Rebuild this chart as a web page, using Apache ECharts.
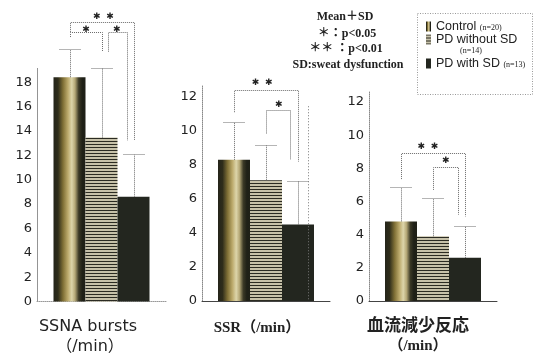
<!DOCTYPE html>
<html><head><meta charset="utf-8">
<script src="https://cdn.jsdelivr.net/npm/echarts@6/dist/echarts.min.js"></script>
<style>html,body{margin:0;padding:0;background:#fff}#c{width:535px;height:355px}</style>
</head><body><div id="c"></div>
<script>
// ---- data ----
const groups = ['Control', 'PD without SD', 'PD with SD'];
const groupN = ['(n=20)', '(n=14)', '(n=13)'];
const panelTitles = ['SSNA bursts', 'SSR', '血流減少反応'];
const unitLabel = '（/min）';
const notes = ['Mean＋SD', '＊：p<0.05', '＊＊ ：p<0.01', 'SD:sweat dysfunction'];

const ssnaMean = [18.4, 13.45, 8.6];
const ssnaSDTop = [20.7, 19.2, 12.1];
const ssrMean = [8.3, 7.1, 4.5];
const ssrSDTop = [10.5, 9.15, 7.07];
const bloodMean = [4.8, 3.9, 2.6];
const bloodSDTop = [6.9, 6.2, 4.5];

const yMax = [19.2, 12.7, 12.6];
const yInterval = [2, 2, 2];

// brackets: [fromSlot, toSlot, topValue, leftLegBottom, rightLegBottom]
const ssnaBrackets = [[0, 2, 22.9, 22.1, 13.2], [0, 1, 22.1, 21.7, 20.5], [1.2, 1.8, 22.1, 20.5, 13.2]];
const ssnaStars = [[1.06, 23.34, '✱  ✱'], [0.52, 22.34, '✱'], [1.48, 22.28, '✱']];
const ssrBrackets = [[0, 2, 12.4, 11.1, 8.2], [1, 1.75, 11.25, 9.85, 8.3]];
const ssrStars = [[0.88, 12.86, '✱  ✱'], [1.4, 11.55, '✱']];
const ssrExtraLines = [[2.3, 11.45, 0]];
const bloodBrackets = [[0, 2, 8.95, 7.35, 5.1], [1, 1.77, 8.1, 6.7, 5.2]];
const bloodStars = [[0.84, 9.28, '✱  ✱'], [1.4, 8.45, '✱']];

const means = [ssnaMean, ssrMean, bloodMean];
const sdTops = [ssnaSDTop, ssrSDTop, bloodSDTop];
const brackets = [ssnaBrackets, ssrBrackets, bloodBrackets];
const stars = [ssnaStars, ssrStars, bloodStars];
const extraLines = [[], ssrExtraLines, []];

// ---- styles ----
const BAR_W = 32;
const grids = [
  {left: 37, width: 129, top: 67.5, height: 234},
  {left: 202, width: 128, top: 85, height: 216},
  {left: 369, width: 128, top: 92, height: 209}
];
const controlFill = new echarts.graphic.LinearGradient(0, 0, 1, 0, [
  {offset: 0, color: '#24241a'}, {offset: 0.14, color: '#2e2c1a'},
  {offset: 0.3, color: '#807036'}, {offset: 0.45, color: '#bcaa6c'},
  {offset: 0.57, color: '#ddd5aa'}, {offset: 0.67, color: '#b6a978'},
  {offset: 0.79, color: '#3b3926'}, {offset: 0.9, color: '#1f2017'}, {offset: 1, color: '#1f2017'}
]);
const stripeCanvas = document.createElement('canvas');
stripeCanvas.width = 4; stripeCanvas.height = 3;
(function () {
  const c = stripeCanvas.getContext('2d');
  c.fillStyle = '#c6c1a9'; c.fillRect(0, 0, 4, 3);
  c.fillStyle = '#2b2b22'; c.fillRect(0, 0, 4, 1);
})();
const stripeFill = {image: stripeCanvas, repeat: 'repeat'};
const fills = [controlFill, stripeFill, '#23261f'];
const lineStroke = {stroke: '#6a6a6a', lineWidth: 1, lineDash: [1, 1]};
const serif = "'Liberation Serif', 'Noto Sans CJK JP'";

function px(v) { return Math.round(v) + 0.5; }

const series = [];
means.forEach((m, p) => {
  groups.forEach((g, i) => {
    series.push({
      name: g, type: 'bar', xAxisIndex: p, yAxisIndex: p,
      barWidth: BAR_W, barGap: '0%',
      itemStyle: {color: fills[i]},
      data: [m[i]], z: 2
    });
  });
  // error bars (mean + SD)
  series.push({
    type: 'custom', xAxisIndex: p, yAxisIndex: p, clip: false, z: 3, silent: true,
    data: m.map((v, i) => [0, v, sdTops[p][i]]),
    renderItem: (params, api) => {
      const i = params.dataIndex;
      const base = api.coord([0, api.value(1)]);
      const top = api.coord([0, api.value(2)]);
      const x = px(base[0] + (i - 1) * BAR_W);
      const yt = px(top[1]);
      return {type: 'group', children: [
        {type: 'line', shape: {x1: x, y1: base[1], x2: x, y2: yt}, style: lineStroke},
        {type: 'line', shape: {x1: x - 11, y1: yt, x2: x + 11, y2: yt}, style: lineStroke}
      ]};
    }
  });
  // significance brackets
  series.push({
    type: 'custom', xAxisIndex: p, yAxisIndex: p, clip: false, z: 3, silent: true,
    data: brackets[p].map(b => [0, b[2]]),
    renderItem: (params, api) => {
      const b = brackets[p][params.dataIndex];
      const c0 = api.coord([0, b[2]]);
      const xl = px(c0[0] + (b[0] - 1) * BAR_W);
      const xr = px(c0[0] + (b[1] - 1) * BAR_W);
      const yt = px(c0[1]);
      const yl = api.coord([0, b[3]])[1];
      const yr = api.coord([0, b[4]])[1];
      return {type: 'polyline', shape: {points: [[xl, yl], [xl, yt], [xr, yt], [xr, yr]]},
        style: Object.assign({fill: null}, lineStroke)};
    }
  });
  series.push({
    type: 'custom', xAxisIndex: p, yAxisIndex: p, clip: false, z: 4, silent: true,
    data: stars[p].map(s => [0, s[1]]),
    renderItem: (params, api) => {
      const s = stars[p][params.dataIndex];
      const c = api.coord([0, s[1]]);
      return {type: 'text', style: {text: s[2], x: c[0] + (s[0] - 1) * BAR_W, y: c[1],
        font: "9px 'DejaVu Sans'", fill: '#222', align: 'center', verticalAlign: 'middle'}};
    }
  });
  if (extraLines[p].length) {
    series.push({
      type: 'custom', xAxisIndex: p, yAxisIndex: p, clip: false, z: 3, silent: true,
      data: extraLines[p].map(l => [0, l[1]]),
      renderItem: (params, api) => {
        const l = extraLines[p][params.dataIndex];
        const a = api.coord([0, l[1]]);
        const b = api.coord([0, l[2]]);
        const x = px(a[0] + (l[0] - 1) * BAR_W);
        return {type: 'line', shape: {x1: x, y1: a[1], x2: x, y2: b[1]}, style: {stroke: '#777', lineWidth: 1, lineDash: [1, 2]}};
      }
    });
  }
});

const legendText = {
  fontFamily: 'Liberation Sans', fontSize: 12.5, color: '#222',
  rich: {n: {fontFamily: 'Liberation Serif', fontSize: 8, color: '#222', padding: [3, 0, 0, 0]}}
};
function legendFormatter(name) {
  const i = groups.indexOf(name);
  return i === 1 ? name : name + ' {n|' + groupN[i] + '}';
}

const option = {
  animation: false,
  backgroundColor: '#fff',
  grid: grids,
  xAxis: grids.map((g, p) => ({
    type: 'category', gridIndex: p, data: [panelTitles[p]],
    axisLabel: {show: false}, axisTick: {show: false},
    axisLine: {lineStyle: p === 0 ? {color: '#999', type: [1, 1]} : {color: '#444', width: 1}}
  })),
  yAxis: grids.map((g, p) => ({
    type: 'value', gridIndex: p, min: 0, max: yMax[p], interval: yInterval[p],
    splitLine: {show: false}, axisTick: {show: false},
    axisLine: {show: true, lineStyle: {color: '#888', type: [1, 1]}},
    axisLabel: {showMaxLabel: false, margin: 5, color: '#222', fontFamily: 'DejaVu Sans', fontSize: 13,
      formatter: v => (v % yInterval[p] === 0 ? String(v) : '')}
  })),
  legend: [
    {data: [groups[0], groups[1]], orient: 'vertical', left: 421, top: 15, itemWidth: 5, itemHeight: 10,
      itemGap: 0, icon: 'rect', selectedMode: false, textStyle: legendText, formatter: legendFormatter},
    {data: [groups[2]], orient: 'vertical', left: 421, top: 52, itemWidth: 5, itemHeight: 10,
      itemGap: 0, icon: 'rect', selectedMode: false, textStyle: legendText, formatter: legendFormatter}
  ],
  graphic: [
    {type: 'rect', shape: {x: 417.5, y: 13.5, width: 115, height: 81}, silent: true,
      style: {fill: 'none', stroke: '#999', lineWidth: 1, lineDash: [1, 1.5]}},
    {type: 'text', silent: true, style: {text: groupN[1], x: 471, y: 51, font: "8px " + serif, fill: '#222', align: 'center', verticalAlign: 'middle'}},
    {type: 'text', silent: true, style: {text: notes[0], x: 345, y: 17, font: "bold 12px " + serif, fill: '#222', align: 'center', verticalAlign: 'middle'}},
    {type: 'text', silent: true, style: {text: notes[1], x: 347, y: 34, font: "bold 12px " + serif, fill: '#222', align: 'center', verticalAlign: 'middle'}},
    {type: 'text', silent: true, style: {text: notes[2], x: 346, y: 49, font: "bold 12px " + serif, fill: '#222', align: 'center', verticalAlign: 'middle'}},
    {type: 'text', silent: true, style: {text: notes[3], x: 348, y: 65, font: "bold 12px " + serif, fill: '#222', align: 'center', verticalAlign: 'middle'}},
    {type: 'text', silent: true, style: {text: panelTitles[0], x: 88, y: 327, font: "16px 'DejaVu Sans'", fill: '#222', align: 'center', verticalAlign: 'middle'}},
    {type: 'text', silent: true, style: {text: unitLabel, x: 90, y: 347, font: "16px 'DejaVu Sans', 'Noto Sans CJK JP'", fill: '#222', align: 'center', verticalAlign: 'middle'}},
    {type: 'text', silent: true, style: {text: panelTitles[1] + unitLabel, x: 257, y: 328, font: "bold 15px " + serif, fill: '#222', align: 'center', verticalAlign: 'middle'}},
    {type: 'text', silent: true, style: {text: panelTitles[2], x: 418, y: 325, font: "bold 17px 'Noto Sans CJK JP'", fill: '#222', align: 'center', verticalAlign: 'middle'}},
    {type: 'text', silent: true, style: {text: unitLabel, x: 418, y: 346, font: "bold 15px " + serif, fill: '#222', align: 'center', verticalAlign: 'middle'}}
  ],
  series: series
};
const chart = echarts.init(document.getElementById('c'), null, {renderer: 'canvas'});
chart.setOption(option);
</script>
</body></html>
